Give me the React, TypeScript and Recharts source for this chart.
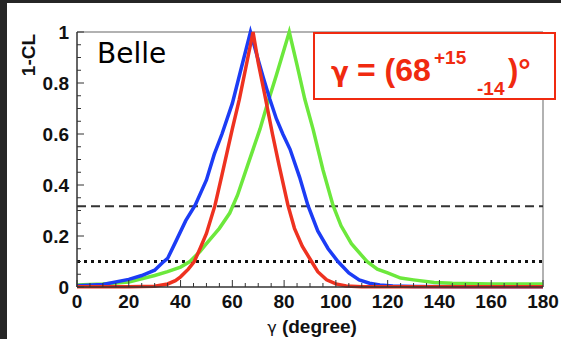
import { LineChart, Line, XAxis, YAxis, ReferenceLine } from "recharts";

// 1-CL scans versus gamma (degrees)
const blueGamma = [0, 10, 20, 25, 30, 33, 35, 38, 42, 45.6, 50, 53, 56, 60, 63, 67, 70, 72, 74.5, 77, 79.5, 82.3, 86, 89.2, 93, 97, 100.8, 105, 109, 113, 117, 122, 130, 150, 180];
const blueCL = [0.005, 0.01, 0.03, 0.045, 0.066, 0.095, 0.112, 0.175, 0.26, 0.32, 0.42, 0.52, 0.6, 0.72, 0.84, 1.0, 0.89, 0.82, 0.736, 0.66, 0.6, 0.54, 0.43, 0.32, 0.22, 0.15, 0.1, 0.055, 0.028, 0.015, 0.008, 0.004, 0.002, 0.001, 0.001];

const redGamma = [0, 20, 30, 35, 38, 40, 43, 45.3, 47.5, 50, 53.3, 56, 58, 60, 62.7, 65, 68, 70, 72.6, 75.5, 78, 81.5, 84, 87, 90.6, 93, 96.4, 100, 104, 110, 180];
const redCL = [0.001, 0.001, 0.003, 0.012, 0.025, 0.04, 0.07, 0.1, 0.15, 0.21, 0.32, 0.44, 0.53, 0.62, 0.736, 0.85, 1.0, 0.88, 0.75, 0.6, 0.48, 0.32, 0.23, 0.16, 0.1, 0.06, 0.028, 0.012, 0.004, 0.001, 0.001];

const greenGamma = [0, 10, 20, 30, 35, 40, 43.6, 47.5, 50, 55, 59, 62, 66, 70.7, 73.3, 77, 82, 85, 88, 91.2, 95, 98.9, 102, 106, 112, 116, 120, 125, 130, 138, 145, 160, 180];
const greenCL = [0.008, 0.012, 0.02, 0.045, 0.06, 0.078, 0.1, 0.139, 0.17, 0.23, 0.29, 0.36, 0.48, 0.62, 0.71, 0.83, 1.0, 0.87, 0.736, 0.618, 0.46, 0.32, 0.24, 0.17, 0.1, 0.07, 0.055, 0.035, 0.028, 0.018, 0.015, 0.012, 0.012];

const oneSigma = 0.317;
const twoLine = 0.1;

const xTicks = Array.from({ length: 37 }, (_, i) => i * 5);
const yTicks = Array.from({ length: 21 }, (_, i) => Math.round(i * 5) / 100);

const toPoints = (gs: number[], cls: number[]) => gs.map((g, i) => ({ g, cl: cls[i] }));

const FONT = "'Liberation Sans', Arial, Helvetica, sans-serif";

const XTick = (props: any) => {
  const { x, y, payload } = props;
  const v = payload.value as number;
  const major = v % 20 === 0;
  return (
    <g>
      <line x1={x} x2={x} y1={y} y2={y - (major ? 7 : 4)} stroke="#333" strokeWidth={1} />
      {major && (
        <text x={x} y={y + 21} textAnchor="middle" fontSize={19} fontWeight="bold" fontFamily={FONT} fill="#111">
          {v}
        </text>
      )}
    </g>
  );
};

const YTick = (props: any) => {
  const { x, y, payload } = props;
  const v = payload.value as number;
  const major = Math.abs(v * 5 - Math.round(v * 5)) < 1e-6;
  return (
    <g>
      <line x1={x} x2={x + (major ? 7 : 4)} y1={y} y2={y} stroke="#333" strokeWidth={1} />
      {major && (
        <text x={x - 8} y={y + 7} textAnchor="end" fontSize={19} fontWeight="bold" fontFamily={FONT} fill="#111">
          {Number(v.toFixed(1)).toString()}
        </text>
      )}
    </g>
  );
};

export default function App() {
  return (
    <div style={{ position: "absolute", left: 0, top: 0, width: 561, height: 339, background: "#fff", overflow: "hidden" }}>
      <div style={{ position: "absolute", left: 0, top: 0, width: 561, height: 3, background: "#262626" }} />
      <div style={{ position: "absolute", left: 0, top: 0, width: 7, height: 339, background: "#262626" }} />
      <LineChart width={561} height={339} margin={{ top: 32, right: 18, bottom: 0, left: 0 }}>
        <XAxis
          type="number"
          dataKey="g"
          domain={[0, 180]}
          ticks={xTicks}
          interval={0}
          height={52}
          tickSize={0}
          tickMargin={0}
          tickLine={false}
          axisLine={{ stroke: "#333", strokeWidth: 1.5 }}
          tick={XTick}
          allowDuplicatedCategory={false}
        />
        <YAxis
          type="number"
          dataKey="cl"
          domain={[0, 1]}
          ticks={yTicks}
          interval={0}
          width={77}
          tickSize={0}
          tickMargin={0}
          tickLine={false}
          axisLine={{ stroke: "#333", strokeWidth: 1.5 }}
          tick={YTick}
        />
        <ReferenceLine y={1} stroke="#999" strokeWidth={1.5} />
        <ReferenceLine x={180} stroke="#999" strokeWidth={1.5} />
        <ReferenceLine y={oneSigma} stroke="#333" strokeWidth={2} strokeDasharray="9 5" />
        <ReferenceLine y={twoLine} stroke="#111" strokeWidth={3} strokeDasharray="3 4" />
        <Line data={toPoints(greenGamma, greenCL)} dataKey="cl" stroke="#6ce83c" strokeWidth={3.5} dot={false} isAnimationActive={false} />
        <Line data={toPoints(blueGamma, blueCL)} dataKey="cl" stroke="#1c3cf5" strokeWidth={3.5} dot={false} isAnimationActive={false} />
        <Line data={toPoints(redGamma, redCL)} dataKey="cl" stroke="#ee3220" strokeWidth={3.5} dot={false} isAnimationActive={false} />
      </LineChart>
      <svg width={561} height={339} style={{ position: "absolute", left: 0, top: 0, pointerEvents: "none" }}>
        <text x={28} y={55} transform="rotate(-90 28 55)" textAnchor="middle" dominantBaseline="central" fontSize={19} fontWeight="bold" fontFamily={FONT} fill="#111">
          1-CL
        </text>
        <text x={312} y={333} textAnchor="middle" fontSize={19} fontWeight="bold" fontFamily={FONT} fill="#111">
          <tspan fontFamily="'DejaVu Sans', sans-serif" fontWeight="normal" fontSize={16}>γ</tspan> (degree)
        </text>
        <text x={97} y={63} fontSize={28} fontFamily="'DejaVu Sans', sans-serif" fill="#000">
          Belle
        </text>
        <rect x={314} y={33} width={241} height={66} fill="#fff" stroke="#f02a10" strokeWidth={2} />
        <text fontFamily={FONT} fontWeight="bold" fill="#f02a10">
          <tspan x={331} y={81} fontSize={26} fontFamily="'DejaVu Sans', sans-serif">γ</tspan>
          <tspan x={357} y={81} fontSize={32}>= (68</tspan>
          <tspan x={434} y={64} fontSize={19}>+15</tspan>
          <tspan x={477} y={95} fontSize={19}>-14</tspan>
          <tspan x={508} y={81} fontSize={31}>)°</tspan>
        </text>
      </svg>
    </div>
  );
}
